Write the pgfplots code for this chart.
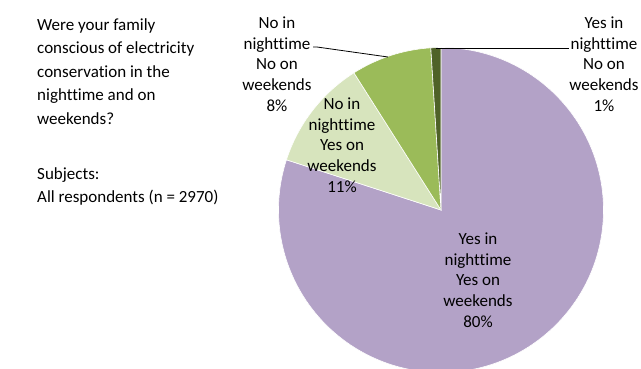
\documentclass[border=0pt]{standalone}
\usepackage{pgfplots}
\pgfplotsset{compat=1.18}
\usepackage{pgfplotstable}
\usepackage{fontspec}
\setmainfont{Carlito}[Ligatures={NoCommon}]
\definecolor{pieA}{HTML}{B3A2C7}
\definecolor{pieB}{HTML}{D7E4BD}
\definecolor{pieC}{HTML}{9BBB59}
\definecolor{pieD}{HTML}{4F6228}
\pgfplotstableread{
label value
YesYes 80
NoYes 11
NoNo 8
YesNo 1
}\pietable
\newcommand\pielab{\fontsize{17bp}{20.7bp}\selectfont}
\newcommand\lefttxt{\fontsize{17bp}{23.5bp}\selectfont}
\begin{document}
\begin{tikzpicture}
\path[use as bounding box] (0,0) rectangle (641bp,369bp);
\clip (0,0) rectangle (641bp,369bp);
\pgfplotstablegetelem{0}{value}\of\pietable \edef\vA{\pgfplotsretval}
\pgfplotstablegetelem{1}{value}\of\pietable \edef\vB{\pgfplotsretval}
\pgfplotstablegetelem{2}{value}\of\pietable \edef\vC{\pgfplotsretval}
\pgfplotstablegetelem{3}{value}\of\pietable \edef\vD{\pgfplotsretval}
\pgfmathsetmacro\aB{90-3.6*\vA}
\pgfmathsetmacro\aC{\aB-3.6*\vB}
\pgfmathsetmacro\aD{\aC-3.6*\vC}
\pgfmathsetmacro\aE{\aD-3.6*\vD}
\def\R{162.5bp}
\begin{axis}[x=1bp, y=1bp, xmin=0, xmax=641, ymin=0, ymax=369,
  anchor=origin, at={(0,0)}, hide axis, clip=false]
\filldraw[fill=pieA, draw=white, line width=0.6pt] (axis cs:441,159) -- ++(90:\R) arc[start angle=90, end angle=\aB, radius=\R] -- cycle;
\filldraw[fill=pieB, draw=white, line width=0.6pt] (axis cs:441,159) -- ++(\aB:\R) arc[start angle=\aB, end angle=\aC, radius=\R] -- cycle;
\filldraw[fill=pieC, draw=white, line width=0.6pt] (axis cs:441,159) -- ++(\aC:\R) arc[start angle=\aC, end angle=\aD, radius=\R] -- cycle;
\filldraw[fill=pieD, draw=white, line width=0.6pt] (axis cs:441,159) -- ++(\aD:\R) arc[start angle=\aD, end angle=\aE, radius=\R] -- cycle;
\draw[black, line width=0.8pt] (axis cs:313,322) -- (axis cs:317,322) -- (axis cs:388,312);
\draw[black, line width=0.8pt] (axis cs:436,321) -- (axis cs:569,321);
\node[align=center, font=\pielab, inner sep=0] at (axis cs:277,305) {No in\\nighttime\\No on\\weekends\\8\%};
\node[align=center, font=\pielab, inner sep=0] at (axis cs:604,305) {Yes in\\nighttime\\No on\\weekends\\1\%};
\node[align=center, font=\pielab, inner sep=0] at (axis cs:342,224) {No in\\nighttime\\Yes on\\weekends\\11\%};
\node[align=center, font=\pielab, inner sep=0] at (axis cs:478,89) {Yes in\\nighttime\\Yes on\\weekends\\80\%};
\node[align=left, font=\lefttxt, inner sep=0, anchor=north west] at (axis cs:37,351) {Were your family\\conscious of electricity\\conservation in the\\nighttime and on\\weekends?};
\node[align=left, font=\lefttxt, inner sep=0, anchor=north west] at (axis cs:37,202) {Subjects:\\All respondents (n = 2970)};
\end{axis}
\end{tikzpicture}
\end{document}
